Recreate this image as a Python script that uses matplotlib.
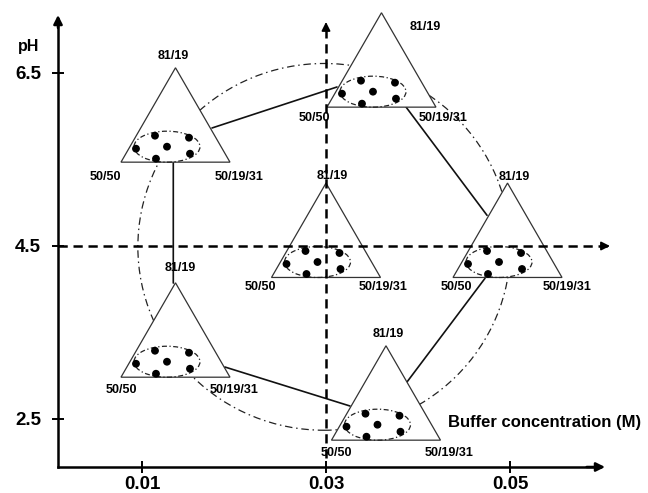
import matplotlib
matplotlib.use("Agg")
import matplotlib.pyplot as plt
import matplotlib.transforms as mtransforms
from matplotlib.patches import Polygon, Ellipse, Circle, ConnectionPatch

plt.rcParams['font.family'] = ['Liberation Sans', 'DejaVu Sans']
plt.rcParams['font.weight'] = 'bold'

# design points: buffer concentration (M) and pH at the centre of each ternary triangle
# order: top-left, top-right, centre, right, bottom-left, bottom-centre
buffer_conc = [0.01364, 0.03603, 0.0300, 0.04973, 0.01364, 0.03652]
ph_values = [5.833, 6.469, 4.50, 4.50, 3.347, 2.619]

# centre of the experimental domain
center_buffer = 0.030
center_ph = 4.5

x_ticks = [0.01, 0.03, 0.05]
x_tick_labels = ["0.01", "0.03", "0.05"]
y_ticks = [2.5, 4.5, 6.5]
y_tick_labels = ["2.5", "4.5", "6.5"]

vertex_labels = ["81/19", "50/50", "50/19/31"]

# neighbouring design points joined by solid lines (index pairs)
links = [(0, 1), (1, 3), (3, 5), (5, 4), (4, 0)]

# ---- layout (pixel offsets at 100 dpi, y up) ----
TRI_W = 109.0
TRI_H = 94.4
tri_pts = [(0, TRI_H * 2 / 3), (-TRI_W / 2, -TRI_H / 3), (TRI_W / 2, -TRI_H / 3)]
ell_off = (-8.5, -16.0)
ell_w, ell_h = 66, 31
dot_offsets = [(-31, -2), (-12, 11), (22, 9), (0, 0), (23, -7), (-11, -12)]

# vertex label positions for each triangle: apex, left, right
label_offsets = [
    [(-2.5, 74.7), (-70.5, -46.3), (63.5, -46.3)],
    [(43.5, 48.7), (-67.5, -42.3), (61.5, -42.3)],
    [(6.0, 69.7), (-66.0, -41.3), (57.0, -41.3)],
    [(6.5, 68.7), (-51.5, -41.3), (60.0, -41.3)],
    [(4.5, 77.7), (-54.5, -43.8), (58.5, -43.8)],
    [(2.0, 75.2), (-50.0, -44.3), (63.0, -44.3)],
]

# where each connecting line leaves / meets the triangles
link_ends = [
    ((36.5, 2.7), (-44.5, -11.3)),
    ((24.5, -31.3), (-20.5, 30.7)),
    ((-22.5, -32.3), (21.0, 26.7)),
    ((-36.0, 2.7), (49.5, -21.3)),
    ((-2.2, 62.7), (-2.2, -31.3)),
]

fig = plt.figure(figsize=(6.48, 4.93), dpi=100)
ax = fig.add_axes([0, 0, 1, 1])
ax.set_xlim(-0.005435, 0.0650)
ax.set_ylim(1.6445, 7.3439)

x_axis_at = 0.00087
y_axis_at = 1.9451
x_tip = 0.06033
y_tip = 7.1705


def px_at(x, y):
    return mtransforms.Affine2D().scale(fig.dpi / 100.0) + \
        mtransforms.ScaledTranslation(x, y, ax.transData)


# axes drawn as arrows from the origin corner
for side in ['top', 'right']:
    ax.spines[side].set_visible(False)
ax.spines['left'].set_position(('data', x_axis_at))
ax.spines['bottom'].set_position(('data', y_axis_at))
ax.spines['left'].set_bounds(y_axis_at, y_tip - 0.05)
ax.spines['bottom'].set_bounds(x_axis_at, x_tip - 0.0005)
for side in ['left', 'bottom']:
    ax.spines[side].set_linewidth(1.8)

arrow_kw = dict(arrowstyle='-|>', color='black', lw=1.8, mutation_scale=13,
                shrinkA=0, shrinkB=0)
ax.annotate('', xy=(x_axis_at, y_tip), xytext=(x_axis_at, y_tip - 0.15),
            arrowprops=arrow_kw)
ax.annotate('', xy=(x_tip, y_axis_at), xytext=(x_tip - 0.002, y_axis_at),
            arrowprops=arrow_kw)

ax.set_xticks(x_ticks)
ax.set_xticklabels(x_tick_labels)
ax.set_yticks(y_ticks)
ax.set_yticklabels(y_tick_labels)
ax.tick_params(axis='both', direction='inout', length=8.6, width=1.4,
               labelsize=13.5)
ax.tick_params(axis='y', pad=8)
ax.tick_params(axis='x', pad=2.5)
ax.xaxis.get_major_ticks()[2].tick1line.set_color('#1c1c7a')

# dash-dot circle enclosing the design
ax.add_patch(Ellipse((0.0298, 4.49), 0.0405, 4.24, fill=False, color='#222222',
                     lw=0.9, ls=(0, (6, 3, 1.2, 3)), zorder=1))

# solid lines between neighbouring design points
for (i, j), (off_a, off_b) in zip(links, link_ends):
    con = ConnectionPatch(off_a, off_b,
                          coordsA=px_at(buffer_conc[i], ph_values[i]),
                          coordsB=px_at(buffer_conc[j], ph_values[j]),
                          color='#111111', lw=1.2, zorder=2)
    ax.add_artist(con)

# ternary triangles with the mixture points
for k, (bx, ph) in enumerate(zip(buffer_conc, ph_values)):
    tr = px_at(bx, ph)
    ax.add_patch(Polygon(tri_pts, closed=True, transform=tr, facecolor='white',
                         edgecolor='#333333', lw=0.9, zorder=3))
    ax.add_patch(Ellipse(ell_off, ell_w, ell_h, transform=tr, fill=False,
                         color='#222222', lw=0.9, ls=(0, (4, 2, 1, 2)), zorder=4))
    for dx, dy in dot_offsets:
        ax.add_patch(Circle((ell_off[0] + dx, ell_off[1] + dy), 3.2, transform=tr,
                            color='black', zorder=5))
    for lab, (lx, ly) in zip(vertex_labels, label_offsets[k]):
        ax.text(lx, ly, lab, transform=tr, ha='center', va='center',
                fontsize=9, fontweight='bold', zorder=7)

# dashed cross through the centre point
dash = (0, (3.7, 2.3))
ax.plot([x_axis_at, 0.0606], [center_ph, center_ph], color='black', lw=1.8,
        ls=dash, zorder=6)
ax.plot([center_buffer, center_buffer], [2.049, 7.04], color='black', lw=1.8,
        ls=dash, zorder=6)
ax.annotate('', xy=(0.06087, center_ph), xytext=(0.0604, center_ph),
            arrowprops=dict(arrow_kw, lw=1.2), zorder=6)
ax.annotate('', xy=(center_buffer, 7.09), xytext=(center_buffer, 7.02),
            arrowprops=dict(arrow_kw, lw=1.2), zorder=6)

fig.text(29 / 648, 1 - 47 / 493, 'pH', ha='center', va='center',
         fontsize=11.5, fontweight='bold')
fig.text(545 / 648, 1 - 423 / 493, 'Buffer concentration (M)', ha='center',
         va='center', fontsize=12, fontweight='bold')

fig.savefig('out.png', dpi=100)
